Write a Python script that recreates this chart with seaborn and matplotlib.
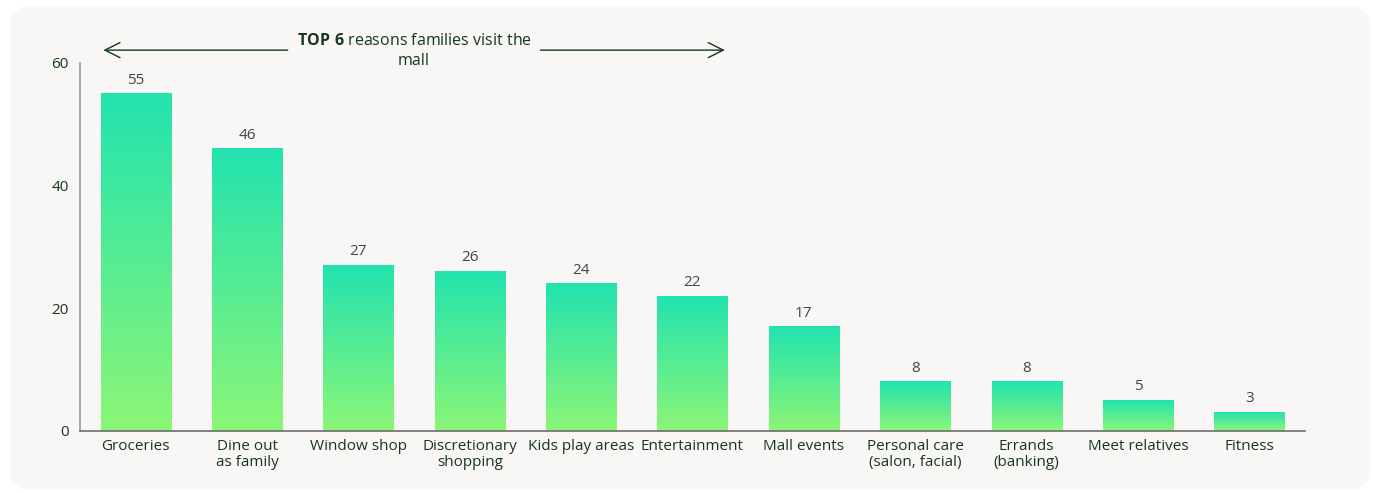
import numpy as np
import pandas as pd
import matplotlib
matplotlib.use("Agg")
import matplotlib.pyplot as plt
from matplotlib.patches import FancyBboxPatch
from matplotlib.colors import LinearSegmentedColormap
import seaborn as sns

categories = ["Groceries", "Dine out\nas family", "Window shop", "Discretionary\nshopping",
              "Kids play areas", "Entertainment", "Mall events", "Personal care\n(salon, facial)",
              "Errands\n(banking)", "Meet relatives", "Fitness"]
values = [55, 46, 27, 26, 24, 22, 17, 8, 8, 5, 3]
y_ticks = [0, 20, 40, 60]
top_n = 6

df = pd.DataFrame({"reason": categories, "share": values})

sns.set_theme(style="white")
plt.rcParams["font.family"] = ["Open Sans", "DejaVu Sans"]
plt.rcParams["mathtext.fontset"] = "custom"
plt.rcParams["mathtext.bf"] = "Open Sans:bold"
plt.rcParams["mathtext.rm"] = "Open Sans"

panel_color = "#F8F7F5"
text_dark = "#17361F"
value_gray = "#444444"

W, H = 1373, 493
fig = plt.figure(figsize=(W / 100, H / 100), dpi=100, facecolor="white")

# rounded card behind the chart, laid out in pixel units
bg = fig.add_axes([0, 0, 1, 1], zorder=-5)
bg.set_xlim(0, W)
bg.set_ylim(H, 0)
bg.axis("off")
bg.add_patch(FancyBboxPatch((10, 6), 1360, 484, boxstyle="round,pad=0,rounding_size=22",
                            facecolor=panel_color, edgecolor="none"))

ax = fig.add_axes([80 / W, 1 - 431 / H, (1305 - 80) / W, (431 - 63) / H], zorder=1)
ax.set_facecolor("none")

sns.barplot(data=df, x="reason", y="share", ax=ax, width=0.63, color="#22E3AF",
            saturation=1, edgecolor="none")

cmap = LinearSegmentedColormap.from_list("bar_grad", ["#8CF677", "#22E3AF"])
grad = np.linspace(0, 1, 256).reshape(-1, 1)
for patch in list(ax.patches):
    x0, y0 = patch.get_x(), patch.get_y()
    w, h = patch.get_width(), patch.get_height()
    patch.set_facecolor("none")
    ax.imshow(grad, cmap=cmap, aspect="auto", origin="lower",
              extent=(x0, x0 + w, y0, y0 + h), zorder=2, interpolation="bicubic")

for i, v in enumerate(values):
    ax.text(i, v + 1.0, f"{v}", ha="center", va="bottom", fontsize=11, color=value_gray)

ax.set_xlim(-0.5, len(values) - 0.5)
ax.set_ylim(0, 60)
ax.set_yticks(y_ticks)
ax.set_yticklabels([str(t) for t in y_ticks], fontsize=11, color=text_dark)
ax.tick_params(axis="y", length=0, pad=8)
ax.tick_params(axis="x", length=0, pad=6)
ax.set_xticks(range(len(categories)))
ax.set_xticklabels(categories, fontsize=11, color=text_dark, linespacing=1.05)
ax.set_xlabel("")
ax.set_ylabel("")

for side in ["top", "right"]:
    ax.spines[side].set_visible(False)
ax.spines["left"].set_color("#9A9A9A")
ax.spines["left"].set_linewidth(1.2)
ax.spines["bottom"].set_color("#6E6E6E")
ax.spines["bottom"].set_linewidth(1.2)

# bracket arrow across the top reasons
bar_w = 0.63
left_end = 0 - bar_w / 2
right_end = (top_n - 1) + bar_w / 2
mid = (left_end + right_end) / 2
y_arr = 62.1
arrow_kw = dict(arrowstyle="->,head_length=0.9,head_width=0.45", color=text_dark, lw=1.0)
ax.annotate("", xy=(left_end, y_arr), xytext=(mid - 1.11, y_arr), arrowprops=arrow_kw,
            annotation_clip=False)
ax.annotate("", xy=(right_end, y_arr), xytext=(mid + 1.11, y_arr), arrowprops=arrow_kw,
            annotation_clip=False)
ax.text(mid, y_arr - 0.1, r"$\mathbf{TOP\ 6}$" + " reasons families visit the\nmall", ha="center",
        va="center", fontsize=11.5, color=text_dark, linespacing=1.3)

fig.savefig("out.png", dpi=100, facecolor="white")
